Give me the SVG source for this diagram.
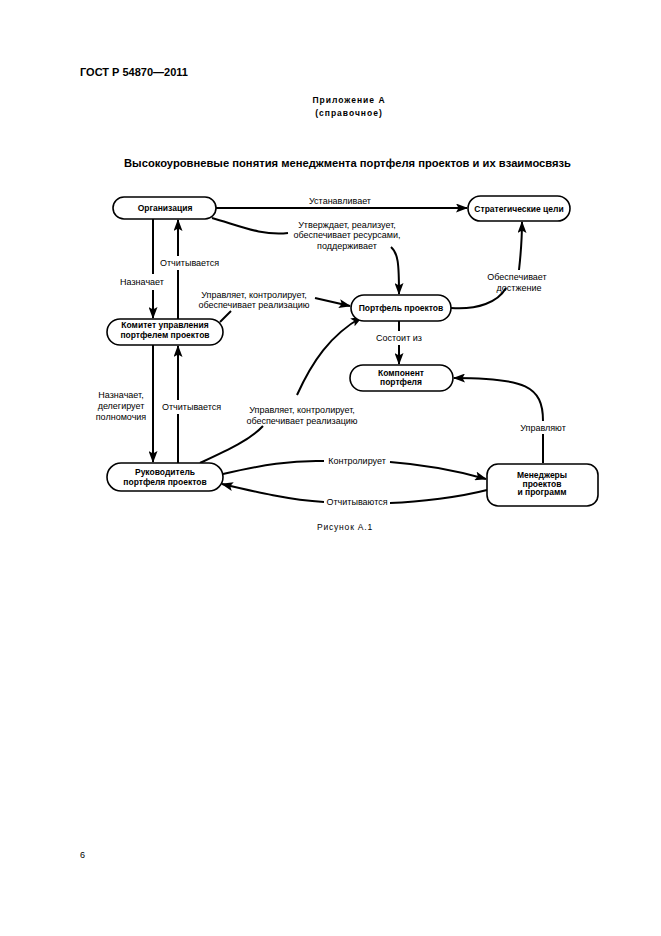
<svg xmlns="http://www.w3.org/2000/svg" width="661" height="936" viewBox="0 0 661 936">
<style>
text{font-family:"Liberation Sans",Arial,sans-serif;fill:#000}
.hdr{font-size:11px;font-weight:bold}
.sub{font-size:8.5px;font-weight:bold;letter-spacing:1px;text-anchor:middle}
.ttl{font-size:11.2px;font-weight:bold}
.cap{font-size:8.5px;letter-spacing:0.8px;text-anchor:middle}
.nl{font-size:8.5px;font-weight:bold;text-anchor:middle}
.lb{font-size:9px}
.c{text-anchor:middle}
.node{fill:#fff;stroke:#000;stroke-width:1.6}
.ln{fill:none;stroke:#000;stroke-width:2}
.ar{marker-end:url(#ah)}
</style>
<defs>
<marker id="ah" markerUnits="userSpaceOnUse" markerWidth="12" markerHeight="9" refX="11" refY="4.5" orient="auto">
<path d="M0,0 L12,4.5 L0,9 L2.5,4.5 z" fill="#000"/>
</marker>
</defs>
<rect width="661" height="936" fill="#fff"/>
<text class="hdr" x="80" y="76">ГОСТ Р 54870—2011</text>
<text class="sub" x="349" y="103">Приложение А</text>
<text class="sub" x="349" y="116">(справочное)</text>
<text class="ttl" x="124" y="167" textLength="447" lengthAdjust="spacing">Высокоуровневые понятия менеджмента портфеля проектов и их взаимосвязь</text>

<g id="connectors">
<path class="ln ar" d="M216,208 L467,208"/>
<path class="ln" d="M212,218 C240,226 262,236 288,233"/>
<path class="ln ar" d="M391,247 C398,253 399,263 399,294"/>
<path class="ln" d="M153,219 L153,274"/>
<path class="ln ar" d="M153,290 L153,318"/>
<path class="ln" d="M178,319 L178,270"/>
<path class="ln ar" d="M178,256 L178,220"/>
<path class="ln" d="M220,322 L231,311"/>
<path class="ln ar" d="M315,298 L350,306"/>
<path class="ln ar" d="M153,345 L153,462"/>
<path class="ln" d="M178,463 L178,414"/>
<path class="ln ar" d="M178,400 L178,346"/>
<path class="ln" d="M200,463 C228,450 250,440 263,426"/>
<path class="ln ar" d="M297,395 C312,362 330,335 362,317"/>
<path class="ln" d="M451,308 C478,310 498,302 506,288"/>
<path class="ln ar" d="M519,270 C521,252 522,240 522,222"/>
<path class="ln" d="M399,321 L399,331"/>
<path class="ln ar" d="M399,345 L399,364"/>
<path class="ln" d="M543,463 L543,434"/>
<path class="ln ar" d="M543,421 C543,386 525,378 454,378"/>
<path class="ln" d="M223,474 C262,465 292,460 324,461"/>
<path class="ln ar" d="M390,462 C430,465 458,471 486,479"/>
<path class="ln" d="M487,490 C460,497 420,502 390,503"/>
<path class="ln ar" d="M324,502 C290,500 256,492 222,484"/>

<text class="lb c" x="340" y="204">Устанавливает</text>
<text class="lb c" x="347" y="228">Утверждает, реализует,</text>
<text class="lb c" x="347" y="238">обеспечивает ресурсами,</text>
<text class="lb c" x="347" y="249">поддерживает</text>
<text class="lb c" x="142" y="285">Назначает</text>
<text class="lb" x="160" y="266">Отчитывается</text>
<text class="lb c" x="254" y="298">Управляет, контролирует,</text>
<text class="lb c" x="254" y="308">обеспечивает реализацию</text>
<text class="lb c" x="517" y="280">Обеспечивает</text>
<text class="lb c" x="519" y="291">достжение</text>
<text class="lb c" x="399" y="341">Состоит из</text>
<text class="lb c" x="121" y="398">Назначает,</text>
<text class="lb c" x="121" y="409">делегирует</text>
<text class="lb c" x="121" y="420">полномочия</text>
<text class="lb" x="162" y="410">Отчитывается</text>
<text class="lb c" x="302" y="413">Управляет, контролирует,</text>
<text class="lb c" x="302" y="424">обеспечивает реализацию</text>
<text class="lb c" x="543" y="431">Управляют</text>
<text class="lb c" x="357" y="464">Контролирует</text>
<text class="lb c" x="357" y="505">Отчитываются</text>
</g>

<g id="org"><rect class="node" x="113" y="197" width="103" height="22" rx="11"/><text class="nl" x="165" y="211">Организация</text></g>
<g id="goals"><rect class="node" x="468" y="196" width="102" height="25" rx="12.5"/><text class="nl" x="519" y="211.5">Стратегические цели</text></g>
<g id="portfolio"><rect class="node" x="351" y="295" width="100" height="26" rx="13"/><text class="nl" x="401" y="311">Портфель проектов</text></g>
<g id="component"><rect class="node" x="350" y="365" width="103" height="26" rx="13"/><text class="nl" x="401" y="375.5">Компонент</text><text class="nl" x="401" y="384.5">портфеля</text></g>
<g id="committee"><rect class="node" x="107" y="319" width="116" height="26" rx="13"/><text class="nl" x="165" y="328">Комитет управления</text><text class="nl" x="165" y="338">портфелем проектов</text></g>
<g id="manager"><rect class="node" x="107" y="463" width="116" height="28" rx="14"/><text class="nl" x="165" y="475">Руководитель</text><text class="nl" x="165" y="485">портфеля проектов</text></g>
<g id="pm"><rect class="node" x="487" y="464" width="111" height="42" rx="11"/><text class="nl" x="542" y="478">Менеджеры</text><text class="nl" x="542" y="486.5">проектов</text><text class="nl" x="542" y="495">и программ</text></g>

<text class="cap" x="345" y="530">Рисунок А.1</text>
<text class="lb" x="80" y="858">6</text>
</svg>
